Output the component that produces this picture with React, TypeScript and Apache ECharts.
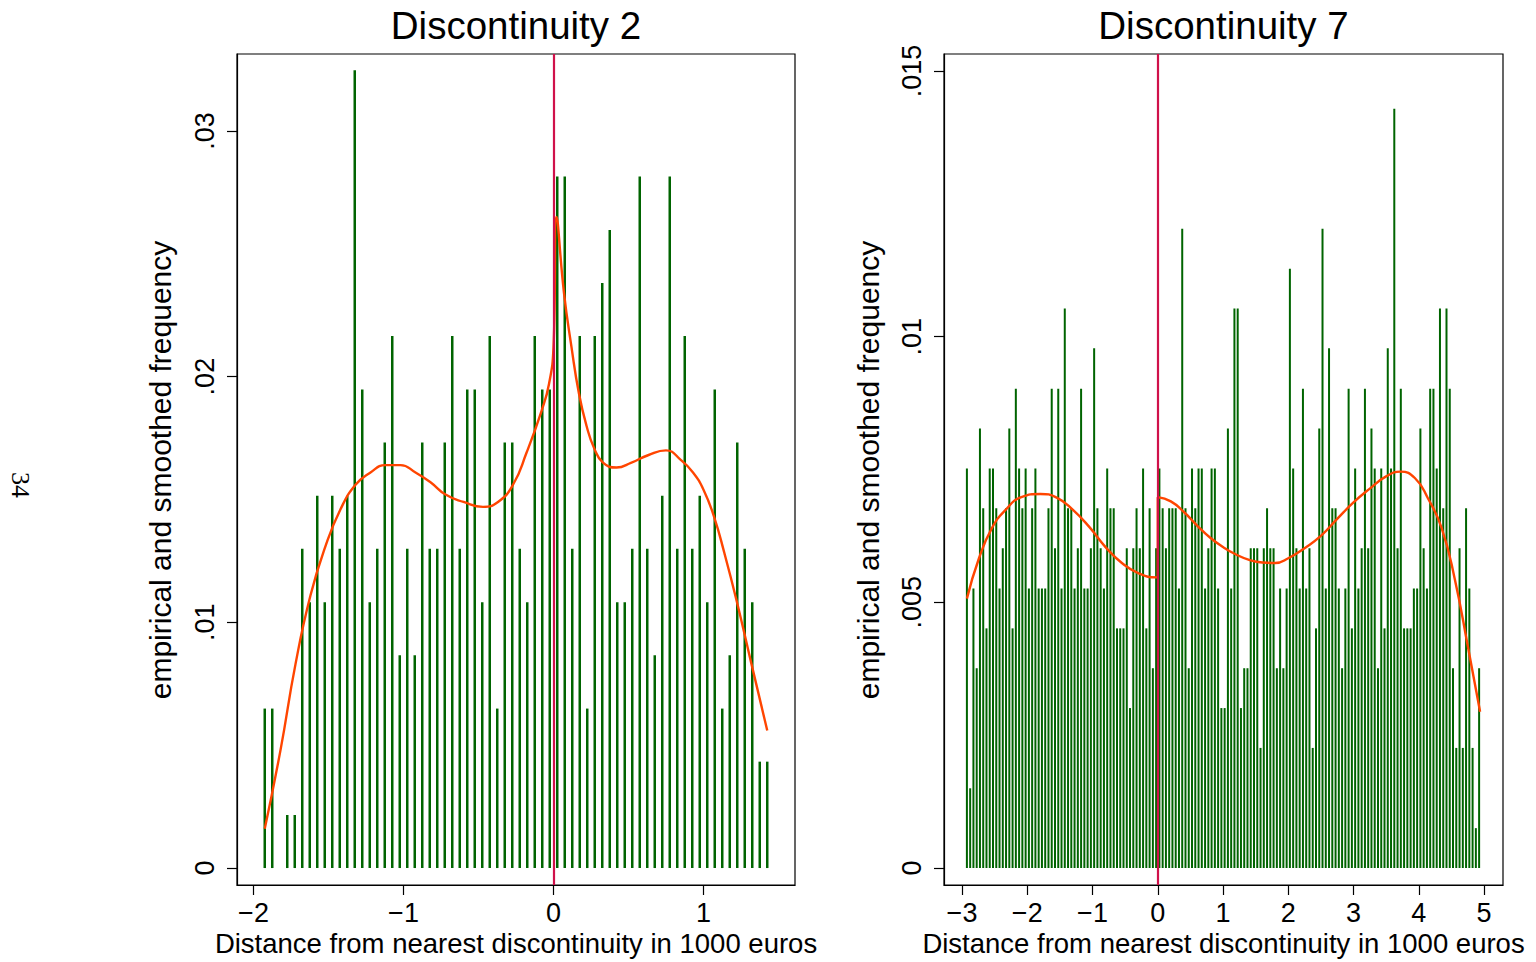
import React, { useEffect, useRef } from 'react';
import * as echarts from 'echarts';

const FONT = '"Liberation Sans", Arial, Helvetica, sans-serif';

const titles = ['Discontinuity 2', 'Discontinuity 7'];
const xTitle = 'Distance from nearest discontinuity in 1000 euros';
const yTitle = 'empirical and smoothed frequency';
const pageNumber = '34';

const leftXTicks = [-2, -1, 0, 1];
const leftYTicks = [0, 0.01, 0.02, 0.03];
const rightXTicks = [-3, -2, -1, 0, 1, 2, 3, 4, 5];
const rightYTicks = [0, 0.005, 0.01, 0.015];

// Discontinuity 2: bin centres and empirical frequencies
const leftBins = [
  -1.925, -1.875, -1.825, -1.775, -1.725, -1.675, -1.625, -1.575, -1.525, -1.475,
  -1.425, -1.375, -1.325, -1.275, -1.225, -1.175, -1.125, -1.075, -1.025, -0.975,
  -0.925, -0.875, -0.825, -0.775, -0.725, -0.675, -0.625, -0.575, -0.525, -0.475,
  -0.425, -0.375, -0.325, -0.275, -0.225, -0.175, -0.125, -0.075, -0.025, 0.025,
  0.075, 0.125, 0.175, 0.225, 0.275, 0.325, 0.375, 0.425, 0.475, 0.525,
  0.575, 0.625, 0.675, 0.725, 0.775, 0.825, 0.875, 0.925, 0.975, 1.025,
  1.075, 1.125, 1.175, 1.225, 1.275, 1.325, 1.375, 1.425,
];
const leftFreq = [
  0.00649, 0.00649, 0, 0.00216, 0.00216, 0.01299, 0.01082, 0.01515, 0.01082, 0.01515,
  0.01299, 0.01515, 0.03247, 0.01948, 0.01082, 0.01299, 0.01732, 0.02165, 0.00866, 0.01299,
  0.00866, 0.01732, 0.01299, 0.01299, 0.01732, 0.02165, 0.01299, 0.01948, 0.01948, 0.01082,
  0.02165, 0.00649, 0.01732, 0.01732, 0.01299, 0.01082, 0.02165, 0.01948, 0.01948, 0.02814,
  0.02814, 0.01299, 0.02165, 0.00649, 0.02165, 0.02381, 0.02597, 0.01082, 0.01082, 0.01299,
  0.02814, 0.01299, 0.00866, 0.01515, 0.02814, 0.01299, 0.02165, 0.01299, 0.01515, 0.01082,
  0.01948, 0.00649, 0.00866, 0.01732, 0.01299, 0.01082, 0.00433, 0.00433,
];
// Discontinuity 2: smoothed frequency
const leftSmoothX = [
  -1.925, -1.82, -1.72, -1.62, -1.52, -1.42, -1.32, -1.22, -1.12, -1.02,
  -0.92, -0.82, -0.72, -0.6, -0.47, -0.37, -0.27, -0.18, -0.08, -0.03, 0.0, 0.02,
  0.07, 0.12, 0.17, 0.22, 0.27, 0.33, 0.42, 0.52, 0.63, 0.75, 0.85, 0.93, 1.0, 1.07,
  1.14, 1.22, 1.32, 1.425,
];
const leftSmoothY = [
  0.0016, 0.0048, 0.0083, 0.0111, 0.0131, 0.0146, 0.0156, 0.0161, 0.0164, 0.0164,
  0.0161, 0.0157, 0.0152, 0.0149, 0.0147, 0.0149, 0.0156, 0.0169, 0.0186, 0.0197, 0.0212, 0.0265,
  0.0234, 0.0212, 0.0193, 0.018, 0.0171, 0.0165, 0.0163, 0.0165, 0.0168, 0.017, 0.0166, 0.0161, 0.0154, 0.0143,
  0.0128, 0.0109, 0.0083, 0.0056,
];

// Discontinuity 7: bin centres and empirical frequencies
const rightBins = [
  -2.925, -2.875, -2.825, -2.775, -2.725, -2.675, -2.625, -2.575, -2.525, -2.475,
  -2.425, -2.375, -2.325, -2.275, -2.225, -2.175, -2.125, -2.075, -2.025, -1.975,
  -1.925, -1.875, -1.825, -1.775, -1.725, -1.675, -1.625, -1.575, -1.525, -1.475,
  -1.425, -1.375, -1.325, -1.275, -1.225, -1.175, -1.125, -1.075, -1.025, -0.975,
  -0.925, -0.875, -0.825, -0.775, -0.725, -0.675, -0.625, -0.575, -0.525, -0.475,
  -0.425, -0.375, -0.325, -0.275, -0.225, -0.175, -0.125, -0.075, -0.025, 0.025,
  0.075, 0.125, 0.175, 0.225, 0.275, 0.325, 0.375, 0.425, 0.475, 0.525,
  0.575, 0.625, 0.675, 0.725, 0.775, 0.825, 0.875, 0.925, 0.975, 1.025,
  1.075, 1.125, 1.175, 1.225, 1.275, 1.325, 1.375, 1.425, 1.475, 1.525,
  1.575, 1.625, 1.675, 1.725, 1.775, 1.825, 1.875, 1.925, 1.975, 2.025,
  2.075, 2.125, 2.175, 2.225, 2.275, 2.325, 2.375, 2.425, 2.475, 2.525,
  2.575, 2.625, 2.675, 2.725, 2.775, 2.825, 2.875, 2.925, 2.975, 3.025,
  3.075, 3.125, 3.175, 3.225, 3.275, 3.325, 3.375, 3.425, 3.475, 3.525,
  3.575, 3.625, 3.675, 3.725, 3.775, 3.825, 3.875, 3.925, 3.975, 4.025,
  4.075, 4.125, 4.175, 4.225, 4.275, 4.325, 4.375, 4.425, 4.475, 4.525,
  4.575, 4.625, 4.675, 4.725, 4.775, 4.825, 4.875, 4.925,
];
const rightFreq = [
  0.00752, 0.0015, 0.00526, 0.00376, 0.00827, 0.00677, 0.00451, 0.00752, 0.00752, 0.00677,
  0.00526, 0.00602, 0.00677, 0.00827, 0.00451, 0.00902, 0.00752, 0.00677, 0.00752, 0.00526,
  0.00677, 0.00752, 0.00526, 0.00526, 0.00526, 0.00677, 0.00902, 0.00602, 0.00902, 0.00526,
  0.01053, 0.00677, 0.00677, 0.00526, 0.00602, 0.00902, 0.00526, 0.00526, 0.00602, 0.00978,
  0.00677, 0.00602, 0.00526, 0.00752, 0.00677, 0.00677, 0.00451, 0.00451, 0.00451, 0.00602,
  0.00301, 0.00602, 0.00677, 0.00602, 0.00752, 0.00451, 0.00677, 0.00376, 0.00602, 0.00752,
  0.00677, 0.00602, 0.00677, 0.00677, 0.00677, 0.00526, 0.01203, 0.00677, 0.00376, 0.00752,
  0.00677, 0.00752, 0.00752, 0.00526, 0.00602, 0.00752, 0.00752, 0.00526, 0.00301, 0.00301,
  0.00827, 0.00526, 0.01053, 0.01053, 0.00301, 0.00376, 0.00376, 0.00602, 0.00602, 0.00602,
  0.00226, 0.00602, 0.00677, 0.00602, 0.00602, 0.00376, 0.00526, 0.00376, 0.00526, 0.01128,
  0.00752, 0.00602, 0.00526, 0.00902, 0.00526, 0.00602, 0.00226, 0.00451, 0.00827, 0.01203,
  0.00526, 0.00978, 0.00677, 0.00677, 0.00526, 0.00376, 0.00526, 0.00902, 0.00451, 0.00752,
  0.00526, 0.00602, 0.00902, 0.00602, 0.00827, 0.00752, 0.00376, 0.00752, 0.00451, 0.00978,
  0.00752, 0.01429, 0.00602, 0.00902, 0.00451, 0.00451, 0.00451, 0.00526, 0.00526, 0.00827,
  0.00602, 0.00526, 0.00902, 0.00902, 0.00752, 0.01053, 0.00677, 0.01053, 0.00902, 0.00376,
  0.00226, 0.00602, 0.00226, 0.00677, 0.00526, 0.00226, 0.00075, 0.00376,
];
// Discontinuity 7: smoothed frequency, estimated separately on each side of 0
const rightSmoothLeftX = [
  -2.925, -2.74, -2.54, -2.34, -2.09, -1.8, -1.55, -1.3, -1.05, -0.8, -0.55, -0.3, -0.02,
];
const rightSmoothLeftY = [
  0.00507, 0.00583, 0.0064, 0.00673, 0.00698, 0.00704, 0.00697, 0.00674, 0.00642, 0.00604,
  0.00574, 0.00555, 0.00547,
];
const rightSmoothRightX = [
  0.0, 0.2, 0.4, 0.6, 0.8, 1.0, 1.2, 1.4, 1.6, 1.8, 2.0, 2.25, 2.5, 2.75, 3.0, 3.25,
  3.5, 3.72, 3.94, 4.14, 4.35, 4.55, 4.76, 4.94,
];
const rightSmoothRightY = [
  0.00698, 0.0069, 0.0067, 0.00645, 0.00622, 0.00604, 0.0059, 0.0058, 0.00575, 0.00574, 0.00583,
  0.00602, 0.00625, 0.00657, 0.00688, 0.00714, 0.00737, 0.00746, 0.00734, 0.00696, 0.0064, 0.00545,
  0.00412, 0.00294,
];

const BAR = '#006400';
const CURVE = '#FF4500';
const CUTOFF = '#D0114A';

const zip = (xs: number[], ys: number[]) => xs.map((x, i) => [x, ys[i]]);
const fmtX = (v: number) => (v < 0 ? '\u2212' + Math.abs(v) : String(v));
const fmtY = (v: number) => (v === 0 ? '0' : String(+v.toFixed(4)).replace(/^0/, ''));

const xAxis = (gridIndex: number, min: number, max: number, ticks: number[]) => ({
  type: 'value',
  gridIndex,
  min,
  max,
  axisLine: { show: true, onZero: false, lineStyle: { color: '#000', width: 1.2 } },
  axisTick: { show: true, length: 10, customValues: ticks, lineStyle: { color: '#000', width: 1.2 } },
  axisLabel: {
    customValues: ticks,
    fontSize: 27,
    color: '#000',
    margin: 14,
    fontFamily: FONT,
    formatter: fmtX,
  },
  splitLine: { show: false },
});

const yAxis = (gridIndex: number, min: number, max: number, ticks: number[]) => ({
  type: 'value',
  gridIndex,
  min,
  max,
  axisLine: { show: true, onZero: false, lineStyle: { color: '#000', width: 1.2 } },
  axisTick: { show: true, length: 10, customValues: ticks, lineStyle: { color: '#000', width: 1.2 } },
  axisLabel: {
    customValues: ticks,
    fontSize: 27,
    color: '#000',
    margin: 19,
    rotate: 90,
    fontFamily: FONT,
    formatter: fmtY,
  },
  splitLine: { show: false },
});

const text = (x: number, y: number, t: string, size: number, rotation = 0, family = FONT) => ({
  type: 'text',
  x,
  y,
  rotation,
  style: {
    text: t,
    fontSize: size,
    fontFamily: family,
    fill: '#000',
    align: 'center',
    verticalAlign: 'middle',
  },
});

const curveStyle = { color: CURVE, width: 2.4 };

export default function App() {
  const ref = useRef<HTMLDivElement>(null);
  useEffect(() => {
    if (!ref.current) return;
    const chart = echarts.init(ref.current, undefined, { renderer: 'svg' });
    const cutoff = {
      silent: true,
      symbol: ['none', 'none'],
      label: { show: false },
      lineStyle: { color: CUTOFF, width: 2.2, type: 'solid' },
      data: [{ xAxis: 0 }],
    };
    const option = {
      animation: false,
      backgroundColor: '#fff',
      grid: [
        { left: 237, top: 54, width: 558, height: 831, show: true, borderColor: '#000', borderWidth: 1.2, backgroundColor: '#fff', containLabel: false },
        { left: 944, top: 54, width: 559, height: 831, show: true, borderColor: '#000', borderWidth: 1.2, backgroundColor: '#fff', containLabel: false },
      ],
      xAxis: [
        xAxis(0, -2.11, 1.61, leftXTicks),
        xAxis(1, -3.276, 5.291, rightXTicks),
      ],
      yAxis: [
        yAxis(0, -0.00069, 0.03313, leftYTicks),
        yAxis(1, -0.00032, 0.01532, rightYTicks),
      ],
      graphic: [
        text(516, 25, titles[0], 38.5),
        text(1223.5, 25, titles[1], 38.5),
        text(516, 943, xTitle, 27.5),
        text(1223.5, 943, xTitle, 27.5),
        text(160, 470, yTitle, 30, Math.PI / 2),
        text(868, 470, yTitle, 30, Math.PI / 2),
        text(20, 485, pageNumber, 26, -Math.PI / 2, '"Liberation Serif", "DejaVu Serif", serif'),
      ],
      series: [
        {
          type: 'bar',
          xAxisIndex: 0,
          yAxisIndex: 0,
          data: zip(leftBins, leftFreq),
          barWidth: 2.5,
          itemStyle: { color: BAR },
          z: 2,
          markLine: cutoff,
        },
        {
          type: 'line',
          xAxisIndex: 0,
          yAxisIndex: 0,
          data: zip(leftSmoothX, leftSmoothY),
          smooth: 0.5,
          symbol: 'none',
          lineStyle: curveStyle,
          z: 3,
        },
        {
          type: 'bar',
          xAxisIndex: 1,
          yAxisIndex: 1,
          data: zip(rightBins, rightFreq),
          barWidth: 2,
          itemStyle: { color: BAR },
          z: 2,
          markLine: cutoff,
        },
        {
          type: 'line',
          xAxisIndex: 1,
          yAxisIndex: 1,
          data: [
            ...zip(rightSmoothLeftX, rightSmoothLeftY),
            [0, rightSmoothLeftY[rightSmoothLeftY.length - 1]],
          ],
          smooth: 0.5,
          symbol: 'none',
          lineStyle: curveStyle,
          z: 3,
        },
        {
          type: 'line',
          xAxisIndex: 1,
          yAxisIndex: 1,
          data: [
            [0, rightSmoothLeftY[rightSmoothLeftY.length - 1]],
            [0, rightSmoothRightY[0]],
          ],
          symbol: 'none',
          lineStyle: curveStyle,
          z: 3,
        },
        {
          type: 'line',
          xAxisIndex: 1,
          yAxisIndex: 1,
          data: zip(rightSmoothRightX, rightSmoothRightY),
          smooth: 0.5,
          symbol: 'none',
          lineStyle: curveStyle,
          z: 3,
        },
      ],
    };
    chart.setOption(option as any);
    return () => chart.dispose();
  }, []);
  return (
    <div
      ref={ref}
      style={{ position: 'fixed', left: 0, top: 0, width: 1536, height: 962, background: '#fff' }}
    />
  );
}
